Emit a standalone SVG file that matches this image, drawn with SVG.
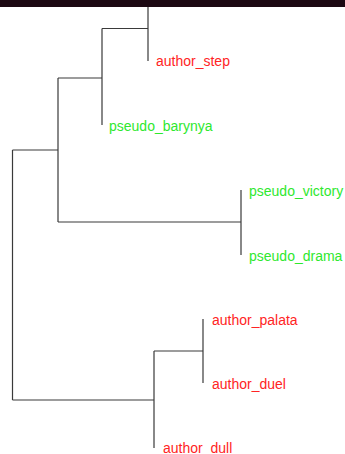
<svg xmlns="http://www.w3.org/2000/svg" width="345" height="454" viewBox="0 0 345 454">
  <style>
    .edge { stroke: #3a3a3a; stroke-width: 1.2; fill: none; }
    .lbl { font-family: "Liberation Sans", Arial, sans-serif; font-size: 14px; }
    .author { fill: #ff2424; }
    .pseudo { fill: #2ee82e; }
  </style>
  <rect x="0" y="0" width="345" height="454" fill="#ffffff"/>
  <rect x="0" y="0" width="345" height="7" fill="#1c0812"/>
  <g id="connectors">
    <path class="edge" d="M148 7 V61 M102 28.5 H148"/>
    <path class="edge" d="M102 28.5 V125 M58 78 H102"/>
    <path class="edge" d="M58 78 V222 M12.5 150 H58"/>
    <path class="edge" d="M58 222 H241 M241 190 V255"/>
    <path class="edge" d="M12.5 150 V400 M12.5 400 H154"/>
    <path class="edge" d="M154 351 V448 M154 351 H203"/>
    <path class="edge" d="M203 319 V383"/>
  </g>
  <g id="author_step"><text class="lbl author" x="156" y="66">author_step</text></g>
  <g id="pseudo_barynya"><text class="lbl pseudo" x="109" y="131">pseudo_barynya</text></g>
  <g id="pseudo_victory"><text class="lbl pseudo" x="249" y="196">pseudo_victory</text></g>
  <g id="pseudo_drama"><text class="lbl pseudo" x="249" y="261">pseudo_drama</text></g>
  <g id="author_palata"><text class="lbl author" x="212" y="325">author_palata</text></g>
  <g id="author_duel"><text class="lbl author" x="212" y="389">author_duel</text></g>
  <g id="author_dull"><text class="lbl author" x="163" y="453">author_dull</text></g>
</svg>
